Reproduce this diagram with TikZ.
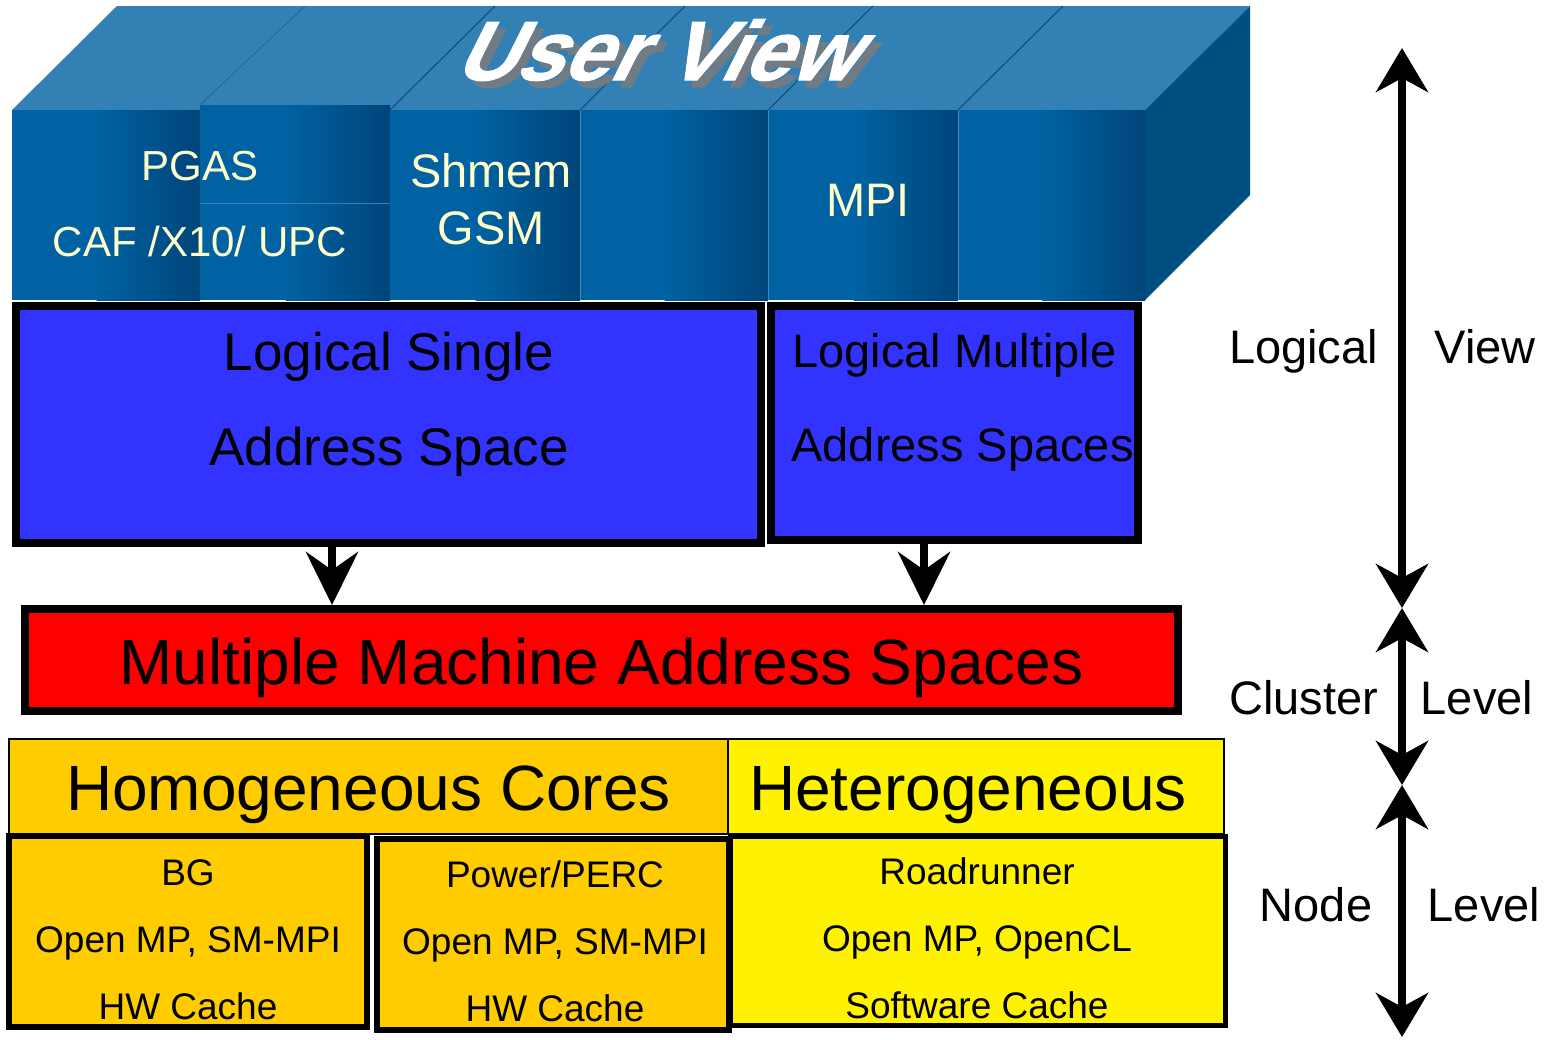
\documentclass[tikz,border=0pt]{standalone}
\usepackage{fontspec}
\setmainfont{Liberation Sans}
\newfontfamily\uvfont[FakeBold=1.2]{Liberation Sans Bold}
\usetikzlibrary{arrows.meta}
\definecolor{topface}{HTML}{3380B4}
\definecolor{frontL}{HTML}{0062A2}
\definecolor{frontR}{HTML}{00457A}
\definecolor{sideface}{HTML}{004F82}
\definecolor{edgeblue}{HTML}{0B4A78}
\definecolor{cream}{HTML}{FFFFCC}
\definecolor{lblue}{HTML}{3333FF}
\definecolor{orangey}{HTML}{FFCC00}
\definecolor{shadowgray}{HTML}{6F7C86}
\newcommand\myfs[1]{\fontsize{#1}{#1}\selectfont}
\begin{document}
\begin{tikzpicture}[x=1pt,y=-1pt,
  lab/.style={inner sep=0pt, text=black, anchor=base},
  toptext/.style={inner sep=0pt, text=cream, anchor=base},
  bigbox/.style={draw=black, line width=8pt, inner sep=0pt},
  headbox/.style={draw=black, line width=1.5pt, inner sep=0pt},
  nodebox/.style={draw=black, line width=6pt, inner sep=0pt},
  downarrow/.style={line width=8pt, -{Stealth[length=53pt,width=52pt,inset=18pt]}},
  levelarrow/.style={line width=8pt, {Stealth[length=44pt,width=52pt,inset=14pt]}-{Stealth[length=44pt,width=52pt,inset=14pt]}},
]
\useasboundingbox (0,0) rectangle (1552,1039);

% ---- 3D "User View" block ----
\fill[topface] (12,110) -- (117,6) -- (1250,6) -- (1145,110) -- cycle;
\fill[sideface] (1145,110) -- (1250,6) -- (1250,195) -- (1145,300) -- cycle;
\foreach \xa/\xb/\ytop in {12/200/110, 200/390/105, 390/580/110, 580/768/110, 768/958/110, 958/1145/110} {
  \fill[frontL] (\xa,\ytop) rectangle (\xb,300);
  \shade[left color=frontL, right color=frontR] ({\xa+0.45*(\xb-\xa)},\ytop) rectangle (\xb,300);
}
\foreach \xs in {390,580,768,958} {
  \draw[edgeblue, line width=1pt] (\xs,110) -- ({\xs+105},6);
}
\draw[edgeblue!60!topface, line width=0.6pt] (200,105) -- (305,6);
\draw[topface, line width=1pt] (200,203) -- (390,203);
\foreach \xs in {580,768,958} {
  \draw[frontL!75!white, line width=0.5pt] (\xs,110) -- (\xs,300);
}

\begin{scope}[shift={(675,57)}, xslant=0.5]
  \node[transform shape, inner sep=0pt, text=shadowgray, font=\uvfont\myfs{84}] (uvshadow) at (0,0) {User View};
\end{scope}
\begin{scope}[shift={(668,50)}, xslant=0.5]
  \node[transform shape, inner sep=0pt, text=white, font=\uvfont\myfs{84}] (uv) at (0,0) {User View};
\end{scope}

\node[toptext, font=\myfs{42}] (pgas) at (200,180) {PGAS};
\node[toptext, font=\myfs{42}] (caf) at (200,256) {CAF /X10/ UPC};
\node[toptext, font=\myfs{47}] (shmem) at (491,187) {Shmem};
\node[toptext, font=\myfs{47}] (gsm) at (491,244) {GSM};
\node[toptext, font=\myfs{47}] (mpi) at (868,216) {MPI};

% ---- logical address space boxes ----
\node[bigbox, fill=lblue, minimum width=745pt, minimum height=237pt] (lsas) at (388.5,424.5) {};
\node[bigbox, fill=lblue, minimum width=367pt, minimum height=234pt] (lmas) at (954.5,423) {};
\node[lab, font=\myfs{53}] (ls1) at (389,370) {Logical Single};
\node[lab, font=\myfs{53}] (ls2) at (389,465) {Address Space};
\node[lab, font=\myfs{47}] (lm1) at (954.5,367) {Logical Multiple};
\node[lab, font=\myfs{47}] (lm2) at (962.5,461) {Address Spaces};

% ---- machine address spaces ----
\node[bigbox, fill=red, minimum width=1153pt, minimum height=102pt] (mmas) at (601.5,660) {};
\node[lab, font=\myfs{64}] (mmastext) at (601.5,684) {Multiple Machine Address Spaces};

\coordinate (ax1) at (332,0);
\coordinate (ax2) at (924,0);
\draw[downarrow] (lsas.south -| ax1) -- (mmas.north -| ax1);
\draw[downarrow] (lmas.south -| ax2) -- (mmas.north -| ax2);

% ---- cores ----
\node[headbox, fill=orangey, minimum width=719pt, minimum height=95pt] (homo) at (368.5,786.5) {};
\node[headbox, fill=yellow, minimum width=496pt, minimum height=95pt] (hetero) at (976,786.5) {};
\node[lab, font=\myfs{64}] (homotext) at (368.5,810) {Homogeneous Cores};
\node[lab, font=\myfs{64}] (heterotext) at (968,810) {Heterogeneous};

\node[nodebox, fill=orangey, minimum width=358pt, minimum height=191pt] (bg) at (188,931.5) {};
\node[nodebox, line width=5pt, fill=yellow, minimum width=495pt, minimum height=189pt] (rr) at (977.5,930.5) {};
\node[nodebox, fill=orangey, minimum width=352pt, minimum height=191pt] (pw) at (553,934.5) {};

\node[lab, font=\myfs{37}] (bg1) at (188,885) {BG};
\node[lab, font=\myfs{37}] (bg2) at (188,952) {Open MP, SM-MPI};
\node[lab, font=\myfs{37}] (bg3) at (188,1019) {HW Cache};
\node[lab, font=\myfs{37}] (pw1) at (555,887) {Power/PERC};
\node[lab, font=\myfs{37}] (pw2) at (555,954) {Open MP, SM-MPI};
\node[lab, font=\myfs{37}] (pw3) at (555,1021) {HW Cache};
\node[lab, font=\myfs{37}] (rr1) at (977,884) {Roadrunner};
\node[lab, font=\myfs{37}] (rr2) at (977,951) {Open MP, OpenCL};
\node[lab, font=\myfs{37}] (rr3) at (977,1018) {Software Cache};

% ---- level arrows ----
\coordinate (l0) at (1402,48);
\coordinate (l1) at (1402,608);
\coordinate (l2) at (1402,785);
\coordinate (l3) at (1402,1037);
\draw[levelarrow] (l0) -- (l1);
\draw[levelarrow] (l1) -- (l2);
\draw[levelarrow] (l2) -- (l3);

\node[lab, font=\myfs{47}] (t1) at (1303.5,363) {Logical};
\node[lab, font=\myfs{47}] (t2) at (1485,363) {View};
\node[lab, font=\myfs{47}] (t3) at (1303.5,714) {Cluster};
\node[lab, font=\myfs{47}] (t4) at (1477,714) {Level};
\node[lab, font=\myfs{47}] (t5) at (1316,921) {Node};
\node[lab, font=\myfs{47}] (t6) at (1484,921) {Level};
\end{tikzpicture}
\end{document}
